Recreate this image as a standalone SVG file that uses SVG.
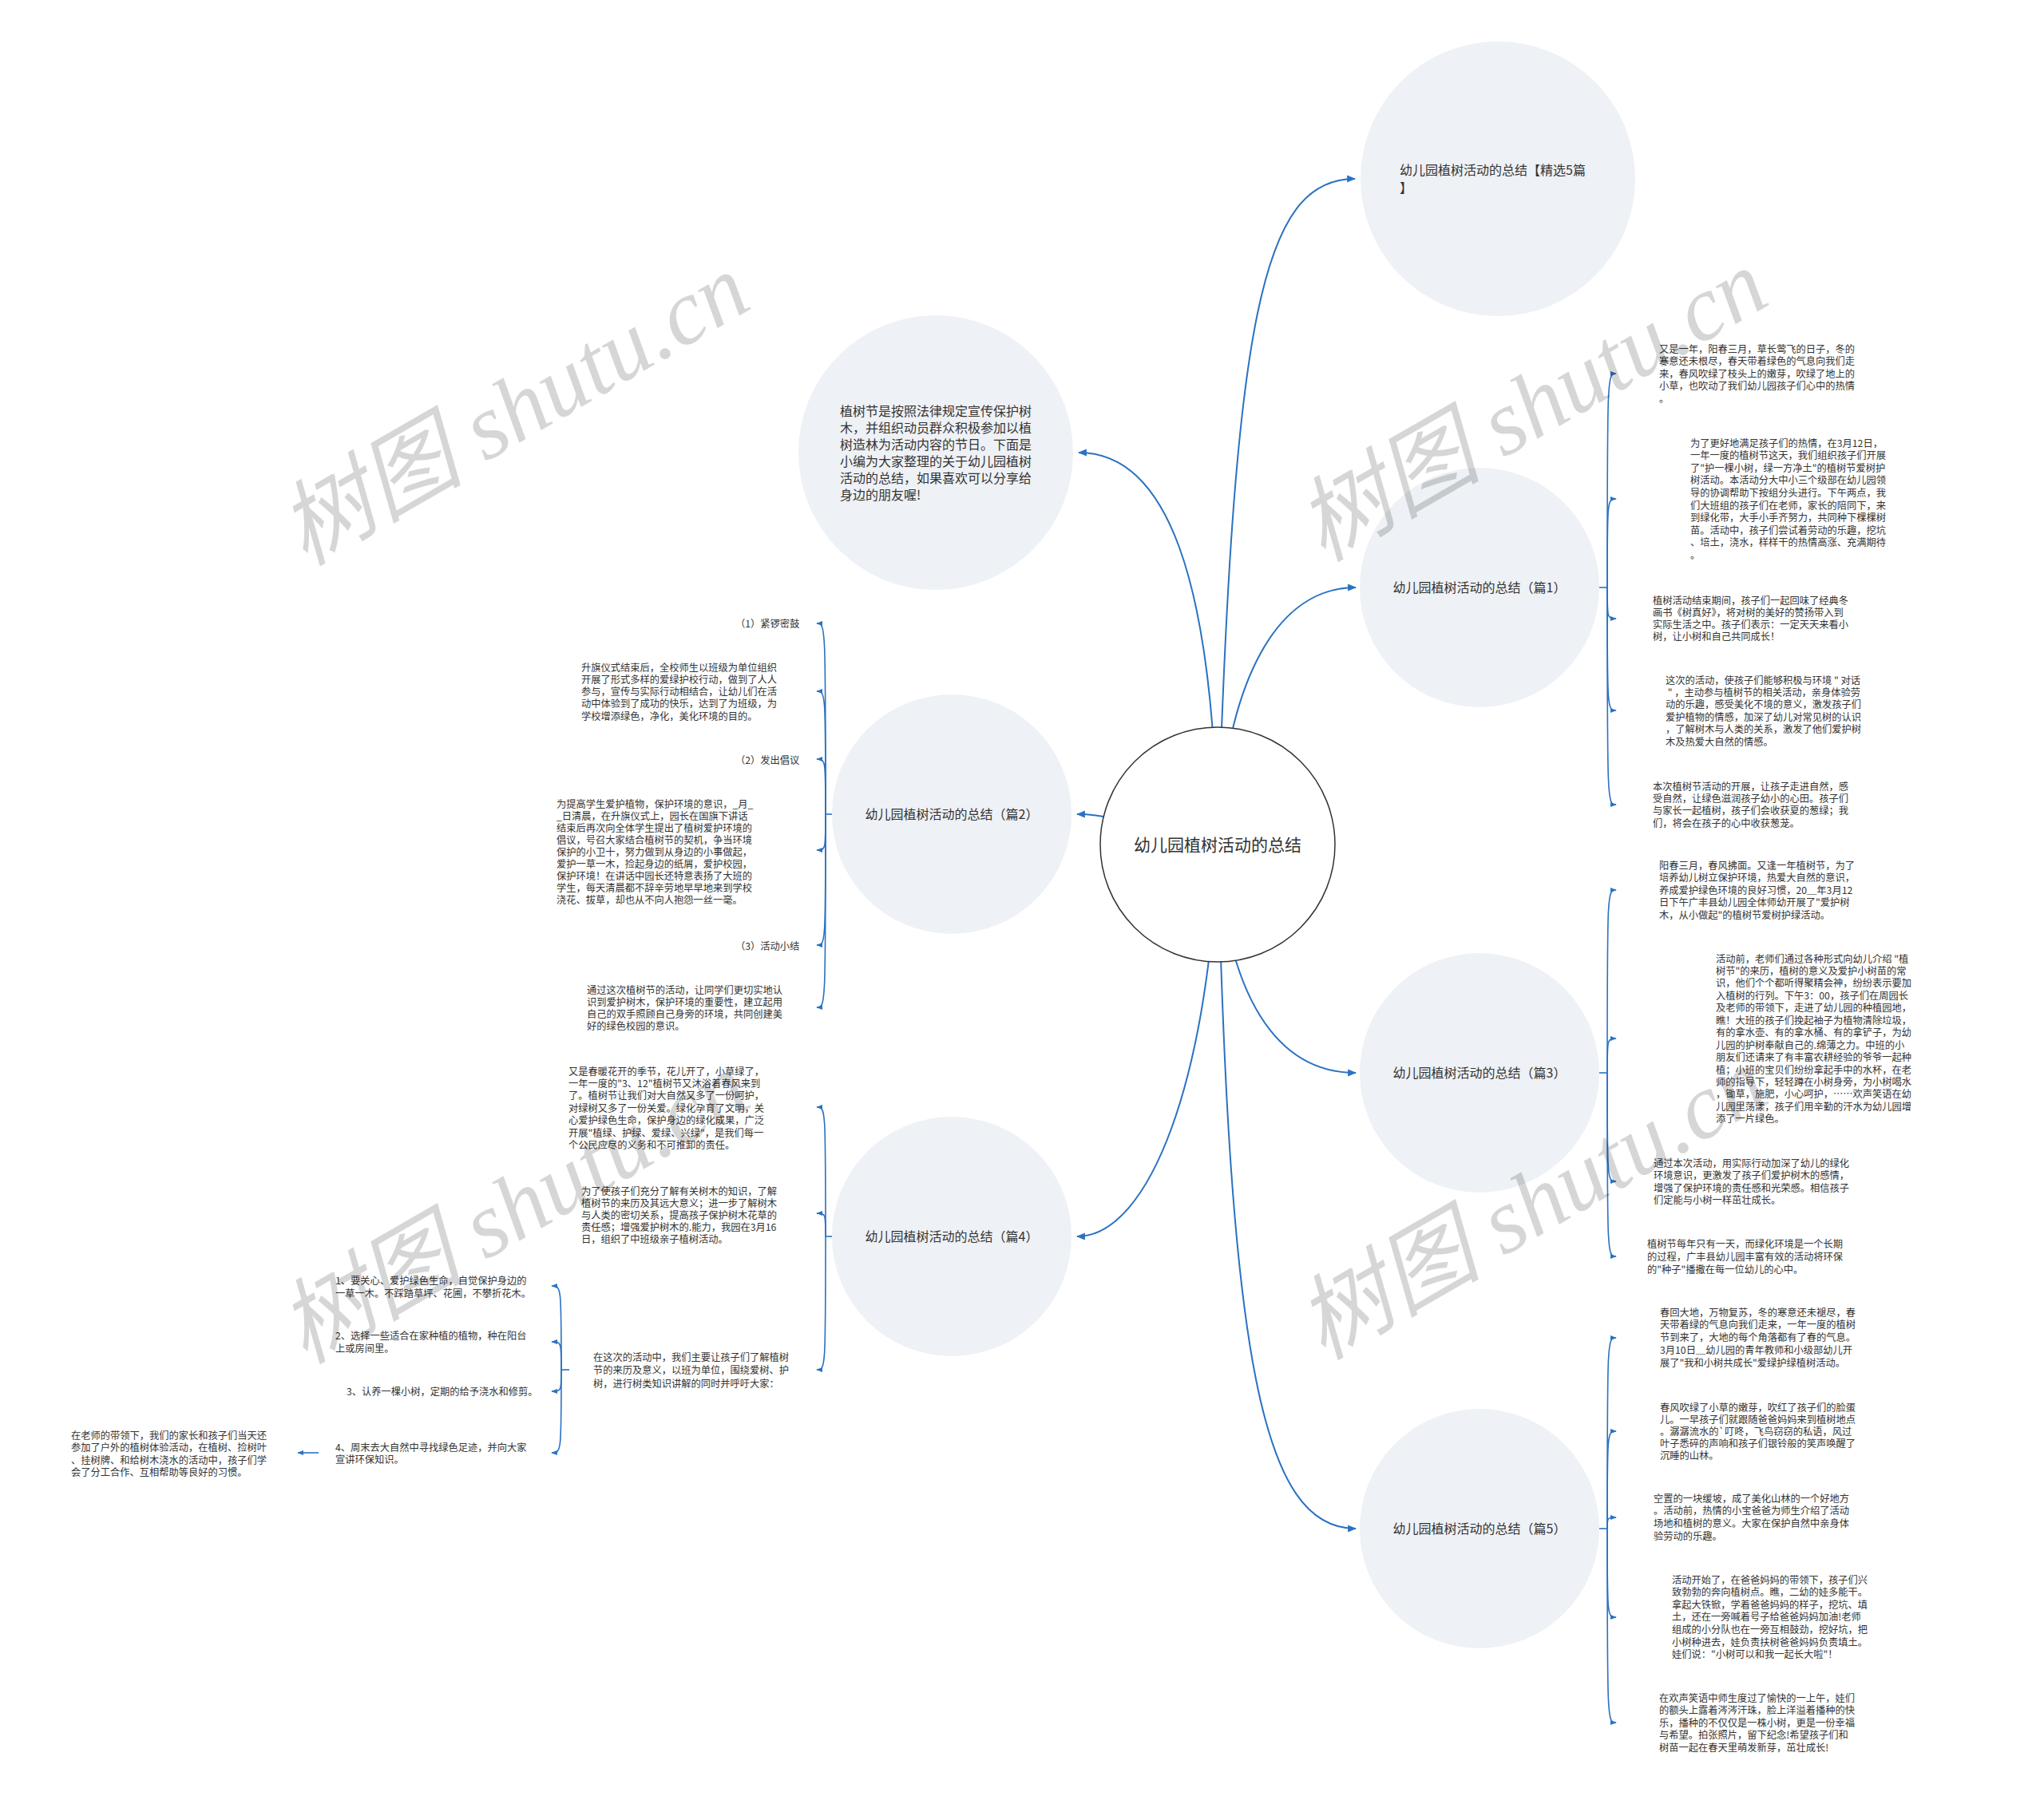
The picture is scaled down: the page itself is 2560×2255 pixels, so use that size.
<svg xmlns="http://www.w3.org/2000/svg" width="2560" height="2255" viewBox="0 0 2560 2255">
<defs>
<style>
.t{font-family:"Noto Sans CJK SC","Noto Sans",sans-serif;font-size:12.25px;fill:#333}
.n{font-family:"Noto Sans CJK SC","Noto Sans",sans-serif;font-size:16px;fill:#333}
.c{font-family:"Noto Sans CJK SC","Noto Sans",sans-serif;font-size:21px;fill:#333}
.bub{fill:#eef1f5}
.ln{fill:none;stroke:#2a72c2;stroke-width:2}
.sl{fill:none;stroke:#2a72c2;stroke-width:1.6}
.wm{font-family:"Liberation Serif","Noto Sans CJK SC",serif;font-style:italic;font-size:116px;fill:#000;fill-opacity:0.16}
</style>
<marker id="a" viewBox="0 0 10 10" refX="9" refY="5" markerWidth="11" markerHeight="11" markerUnits="userSpaceOnUse" orient="auto"><path d="M0,1 L10,5 L0,9 z" fill="#2a72c2"/></marker>
<marker id="s" viewBox="0 0 10 10" refX="9" refY="5" markerWidth="8" markerHeight="8" markerUnits="userSpaceOnUse" orient="auto"><path d="M0,1 L10,5 L0,9 z" fill="#2a72c2"/></marker>
</defs>
<rect width="2560" height="2255" fill="#fff"/>

<g id="connectors">
<path class="ln" marker-end="url(#a)" d="M1525 1058 C1545 400,1580 224,1697 224"/>
<path class="ln" marker-end="url(#a)" d="M1525 1058 C1520 720,1460 567,1351 567"/>
<path class="ln" marker-end="url(#a)" d="M1525 1058 C1535 850,1600 736,1698 736"/>
<path class="ln" marker-end="url(#a)" d="M1525 1058 C1450 1058,1420 1020,1349 1020"/>
<path class="ln" marker-end="url(#a)" d="M1525 1058 C1535 1250,1600 1344,1698 1344"/>
<path class="ln" marker-end="url(#a)" d="M1525 1058 C1515 1350,1440 1549,1349 1549"/>
<path class="ln" marker-end="url(#a)" d="M1525 1058 C1540 1700,1580 1915,1698 1915"/>

<path class="sl" d="M2003 736 H2013"/>
<path class="sl" marker-end="url(#s)" d="M2013 736 C2013 468,2013 468,2024 468"/>
<path class="sl" marker-end="url(#s)" d="M2013 736 C2013 625,2013 625,2024 625"/>
<path class="sl" marker-end="url(#s)" d="M2013 736 C2013 775,2013 775,2024 775"/>
<path class="sl" marker-end="url(#s)" d="M2013 736 C2013 890,2013 890,2024 890"/>
<path class="sl" marker-end="url(#s)" d="M2013 736 C2013 1008,2013 1008,2024 1008"/>

<path class="sl" d="M2003 1344 H2013"/>
<path class="sl" marker-end="url(#s)" d="M2013 1344 C2013 1115,2013 1115,2024 1115"/>
<path class="sl" marker-end="url(#s)" d="M2013 1344 C2013 1301,2013 1301,2024 1301"/>
<path class="sl" marker-end="url(#s)" d="M2013 1344 C2013 1480,2013 1480,2024 1480"/>
<path class="sl" marker-end="url(#s)" d="M2013 1344 C2013 1574,2013 1574,2024 1574"/>

<path class="sl" d="M2003 1915 H2013"/>
<path class="sl" marker-end="url(#s)" d="M2013 1915 C2013 1676,2013 1676,2024 1676"/>
<path class="sl" marker-end="url(#s)" d="M2013 1915 C2013 1793,2013 1793,2024 1793"/>
<path class="sl" marker-end="url(#s)" d="M2013 1915 C2013 1901,2013 1901,2024 1901"/>
<path class="sl" marker-end="url(#s)" d="M2013 1915 C2013 2026,2013 2026,2024 2026"/>
<path class="sl" marker-end="url(#s)" d="M2013 1915 C2013 2158,2013 2158,2024 2158"/>

<path class="sl" d="M1042 1020 H1034"/>
<path class="sl" marker-end="url(#s)" d="M1034 1020 C1034 781,1034 781,1023 781"/>
<path class="sl" marker-end="url(#s)" d="M1034 1020 C1034 866,1034 866,1023 866"/>
<path class="sl" marker-end="url(#s)" d="M1034 1020 C1034 951,1034 951,1023 951"/>
<path class="sl" marker-end="url(#s)" d="M1034 1020 C1034 1065,1034 1065,1023 1065"/>
<path class="sl" marker-end="url(#s)" d="M1034 1020 C1034 1184,1034 1184,1023 1184"/>
<path class="sl" marker-end="url(#s)" d="M1034 1020 C1034 1262,1034 1262,1023 1262"/>

<path class="sl" d="M1042 1549 H1034"/>
<path class="sl" marker-end="url(#s)" d="M1034 1549 C1034 1387,1034 1387,1023 1387"/>
<path class="sl" marker-end="url(#s)" d="M1034 1549 C1034 1520,1034 1520,1023 1520"/>
<path class="sl" marker-end="url(#s)" d="M1034 1549 C1034 1716,1034 1716,1023 1716"/>

<path class="sl" d="M713 1716 H703"/>
<path class="sl" marker-end="url(#s)" d="M703 1716 C703 1611,703 1611,691 1611"/>
<path class="sl" marker-end="url(#s)" d="M703 1716 C703 1681,703 1681,691 1681"/>
<path class="sl" marker-end="url(#s)" d="M703 1716 C703 1743,703 1743,691 1743"/>
<path class="sl" marker-end="url(#s)" d="M703 1716 C703 1820,703 1820,691 1820"/>

<path class="sl" marker-end="url(#s)" d="M399 1820 H373"/>
</g>

<g id="center">
<circle cx="1525" cy="1058" r="147" fill="#fff" stroke="#333" stroke-width="1.5"/>
<text class="c" x="1525" y="1066" text-anchor="middle">幼儿园植树活动的总结</text>
</g>

<g id="node-jingxuan">
<circle class="bub" cx="1876" cy="224" r="172"/>
<text class="n" x="1753" y="219">幼儿园植树活动的总结【精选5篇<tspan x="1753" y="241">】</tspan></text>
</g>

<g id="node-intro">
<circle class="bub" cx="1172" cy="567" r="172"/>
<text class="n" x="1052" y="521"><tspan x="1052" y="521">植树节是按照法律规定宣传保护树</tspan><tspan x="1052" dy="21">木，并组织动员群众积极参加以植</tspan><tspan x="1052" dy="21">树造林为活动内容的节日。下面是</tspan><tspan x="1052" dy="21">小编为大家整理的关于幼儿园植树</tspan><tspan x="1052" dy="21">活动的总结，如果喜欢可以分享给</tspan><tspan x="1052" dy="21">身边的朋友喔!</tspan></text>
</g>

<g id="node-p1">
<circle class="bub" cx="1853" cy="736" r="150"/>
<text class="n" x="1853" y="742" text-anchor="middle">幼儿园植树活动的总结（篇1）</text>
</g>
<g id="node-p2">
<circle class="bub" cx="1192" cy="1020" r="150"/>
<text class="n" x="1192" y="1026" text-anchor="middle">幼儿园植树活动的总结（篇2）</text>
</g>
<g id="node-p3">
<circle class="bub" cx="1853" cy="1344" r="150"/>
<text class="n" x="1853" y="1350" text-anchor="middle">幼儿园植树活动的总结（篇3）</text>
</g>
<g id="node-p4">
<circle class="bub" cx="1192" cy="1549" r="150"/>
<text class="n" x="1192" y="1555" text-anchor="middle">幼儿园植树活动的总结（篇4）</text>
</g>
<g id="node-p5">
<circle class="bub" cx="1853" cy="1915" r="150"/>
<text class="n" x="1853" y="1921" text-anchor="middle">幼儿园植树活动的总结（篇5）</text>
</g>

<g id="p1-texts">
<text class="t"><tspan x="2078" y="441.5">又是一年，阳春三月，草长莺飞的日子，冬的</tspan><tspan x="2078" dy="15.6">寒意还未根尽，春天带着绿色的气息向我们走</tspan><tspan x="2078" dy="15.6">来，春风吹绿了枝头上的嫩芽，吹绿了地上的</tspan><tspan x="2078" dy="15.6">小草，也吹动了我们幼儿园孩子们心中的热情</tspan><tspan x="2078" dy="15.6">。</tspan></text>
<text class="t"><tspan x="2117" y="559.5">为了更好地满足孩子们的热情，在3月12日，</tspan><tspan x="2117" dy="15.6">一年一度的植树节这天，我们组织孩子们开展</tspan><tspan x="2117" dy="15.6">了"护一棵小树，绿一方净土"的植树节爱树护</tspan><tspan x="2117" dy="15.6">树活动。本活动分大中小三个级部在幼儿园领</tspan><tspan x="2117" dy="15.6">导的协调帮助下按组分头进行。下午两点，我</tspan><tspan x="2117" dy="15.6">们大班组的孩子们在老师，家长的陪同下，来</tspan><tspan x="2117" dy="15.6">到绿化带，大手小手齐努力，共同种下棵棵树</tspan><tspan x="2117" dy="15.6">苗。活动中，孩子们尝试着劳动的乐趣，挖坑</tspan><tspan x="2117" dy="15.6">、培土，浇水，样样干的热情高涨、充满期待</tspan><tspan x="2117" dy="15.6">。</tspan></text>
<text class="t"><tspan x="2070" y="756.5">植树活动结束期间，孩子们一起回味了经典冬</tspan><tspan x="2070" dy="15.2">画书《树真好》，将对树的美好的赞扬带入到</tspan><tspan x="2070" dy="15.2">实际生活之中。孩子们表示：一定天天来看小</tspan><tspan x="2070" dy="15.2">树，让小树和自己共同成长！</tspan></text>
<text class="t"><tspan x="2086" y="856.5">这次的活动，使孩子们能够积极与环境 " 对话</tspan><tspan x="2086" dy="15.4"> " ，主动参与植树节的相关活动，亲身体验劳</tspan><tspan x="2086" dy="15.4">动的乐趣，感受美化不境的意义，激发孩子们</tspan><tspan x="2086" dy="15.4">爱护植物的情感，加深了幼儿对常见树的认识</tspan><tspan x="2086" dy="15.4">，了解树木与人类的关系，激发了他们爱护树</tspan><tspan x="2086" dy="15.4">木及热爱大自然的情感。</tspan></text>
<text class="t"><tspan x="2070" y="989.5">本次植树节活动的开展，让孩子走进自然，感</tspan><tspan x="2070" dy="15.4">受自然，让绿色滋润孩子幼小的心田。孩子们</tspan><tspan x="2070" dy="15.4">与家长一起植树，孩子们会收获夏的葱绿；我</tspan><tspan x="2070" dy="15.4">们，将会在孩子的心中收获葱茏。</tspan></text>
</g>

<g id="p2-texts">
<text class="t" x="921" y="785.5">（1）紧锣密鼓</text>
<text class="t"><tspan x="728" y="840.5">升旗仪式结束后，全校师生以班级为单位组织</tspan><tspan x="728" dy="15.3">开展了形式多样的爱绿护校行动，做到了人人</tspan><tspan x="728" dy="15.3">参与，宣传与实际行动相结合，让幼儿们在活</tspan><tspan x="728" dy="15.3">动中体验到了成功的快乐，达到了为班级，为</tspan><tspan x="728" dy="15.3">学校增添绿色，净化，美化环境的目的。</tspan></text>
<text class="t" x="921" y="956.5">（2）发出倡议</text>
<text class="t"><tspan x="697" y="1011.5">为提高学生爱护植物，保护环境的意识，_月_</tspan><tspan x="697" dy="15.1">_日清晨，在升旗仪式上，园长在国旗下讲话</tspan><tspan x="697" dy="15.1">结束后再次向全体学生提出了植树爱护环境的</tspan><tspan x="697" dy="15.1">倡议，号召大家结合植树节的契机，争当环境</tspan><tspan x="697" dy="15.1">保护的小卫十，努力做到从身边的小事做起，</tspan><tspan x="697" dy="15.1">爱护一草一木，捡起身边的纸屑，爱护校园，</tspan><tspan x="697" dy="15.1">保护环境！在讲话中园长还特意表扬了大班的</tspan><tspan x="697" dy="15.1">学生，每天清晨都不辞辛劳地早早地来到学校</tspan><tspan x="697" dy="15.1">浇花、拔草，却也从不向人抱怨一丝一毫。</tspan></text>
<text class="t" x="921" y="1189.5">（3）活动小结</text>
<text class="t"><tspan x="735" y="1244.5">通过这次植树节的活动，让同学们更切实地认</tspan><tspan x="735" dy="15">识到爱护树木，保护环境的重要性，建立起用</tspan><tspan x="735" dy="15">自己的双手照顾自己身旁的环境，共同创建美</tspan><tspan x="735" dy="15">好的绿色校园的意识。</tspan></text>
</g>

<g id="p4-texts">
<text class="t"><tspan x="712" y="1346.5">又是春暖花开的季节，花儿开了，小草绿了，</tspan><tspan x="712" dy="15.4">一年一度的"3、12"植树节又沐浴着春风来到</tspan><tspan x="712" dy="15.4">了。植树节让我们对大自然又多了一份呵护，</tspan><tspan x="712" dy="15.4">对绿树又多了一份关爱。绿化孕育了文明，关</tspan><tspan x="712" dy="15.4">心爱护绿色生命，保护身边的绿化成果，广泛</tspan><tspan x="712" dy="15.4">开展"植绿、护绿、爱绿、兴绿"，是我们每一</tspan><tspan x="712" dy="15.4">个公民应尽的义务和不可推卸的责任。</tspan></text>
<text class="t"><tspan x="728" y="1496.5">为了使孩子们充分了解有关树木的知识，了解</tspan><tspan x="728" dy="15">植树节的来历及其远大意义；进一步了解树木</tspan><tspan x="728" dy="15">与人类的密切关系，提高孩子保护树木花草的</tspan><tspan x="728" dy="15">责任感；增强爱护树木的.能力，我园在3月16</tspan><tspan x="728" dy="15">日，组织了中班级亲子植树活动。</tspan></text>
<text class="t"><tspan x="743" y="1704.5">在这次的活动中，我们主要让孩子们了解植树</tspan><tspan x="743" dy="16.5">节的来历及意义，以班为单位，围绕爱树、护</tspan><tspan x="743" dy="16.5">树，进行树类知识讲解的同时并呼吁大家：</tspan></text>
<text class="t"><tspan x="420" y="1608.5">1、要关心、爱护绿色生命，自觉保护身边的</tspan><tspan x="420" dy="16.5">一草一木。不踩踏草坪、花圃，不攀折花木。</tspan></text>
<text class="t"><tspan x="420" y="1677.5">2、选择一些适合在家种植的植物，种在阳台</tspan><tspan x="420" dy="16">上或房间里。</tspan></text>
<text class="t" x="434" y="1747.5">3、认养一棵小树，定期的给予浇水和修剪。</text>
<text class="t"><tspan x="420" y="1817.5">4、周末去大自然中寻找绿色足迹，并向大家</tspan><tspan x="420" dy="15.5">宣讲环保知识。</tspan></text>
<text class="t"><tspan x="89" y="1802.5">在老师的带领下，我们的家长和孩子们当天还</tspan><tspan x="89" dy="15.6">参加了户外的植树体验活动，在植树、捡树叶</tspan><tspan x="89" dy="15.6">、挂树牌、和给树木浇水的活动中，孩子们学</tspan><tspan x="89" dy="15.6">会了分工合作、互相帮助等良好的习惯。</tspan></text>
</g>

<g id="p3-texts">
<text class="t"><tspan x="2078" y="1088.5">阳春三月，春风拂面。又逢一年植树节，为了</tspan><tspan x="2078" dy="15.5">培养幼儿树立保护环境，热爱大自然的意识，</tspan><tspan x="2078" dy="15.5">养成爱护绿色环境的良好习惯，20＿年3月12</tspan><tspan x="2078" dy="15.5">日下午广丰县幼儿园全体师幼开展了"爱护树</tspan><tspan x="2078" dy="15.5">木，从小做起"的植树节爱树护绿活动。</tspan></text>
<text class="t"><tspan x="2149" y="1205.5">活动前，老师们通过各种形式向幼儿介绍 "植</tspan><tspan x="2149" dy="15.45">树节"的来历，植树的意义及爱护小树苗的常</tspan><tspan x="2149" dy="15.45">识，他们个个都听得聚精会神，纷纷表示要加</tspan><tspan x="2149" dy="15.45">入植树的行列。下午3：00，孩子们在周园长</tspan><tspan x="2149" dy="15.45">及老师的带领下，走进了幼儿园的种植园地，</tspan><tspan x="2149" dy="15.45">瞧！大班的孩子们挽起袖子为植物清除垃圾，</tspan><tspan x="2149" dy="15.45">有的拿水壶、有的拿水桶、有的拿铲子，为幼</tspan><tspan x="2149" dy="15.45">儿园的护树奉献自己的.绵薄之力。中班的小</tspan><tspan x="2149" dy="15.45">朋友们还请来了有丰富农耕经验的爷爷一起种</tspan><tspan x="2149" dy="15.45">植；小班的宝贝们纷纷拿起手中的水杯，在老</tspan><tspan x="2149" dy="15.45">师的指导下，轻轻蹲在小树身旁，为小树喝水</tspan><tspan x="2149" dy="15.45">，锄草，施肥，小心呵护，……欢声笑语在幼</tspan><tspan x="2149" dy="15.45">儿园里荡漾，孩子们用辛勤的汗水为幼儿园增</tspan><tspan x="2149" dy="15.45">添了一片绿色。</tspan></text>
<text class="t"><tspan x="2071" y="1461.5">通过本次活动，用实际行动加深了幼儿的绿化</tspan><tspan x="2071" dy="15.6">环境意识，更激发了孩子们爱护树木的感情，</tspan><tspan x="2071" dy="15.6">增强了保护环境的责任感和光荣感。相信孩子</tspan><tspan x="2071" dy="15.6">们定能与小树一样茁壮成长。</tspan></text>
<text class="t"><tspan x="2063" y="1562.5">植树节每年只有一天，而绿化环境是一个长期</tspan><tspan x="2063" dy="16">的过程，广丰县幼儿园丰富有效的活动将环保</tspan><tspan x="2063" dy="16">的"种子"播撒在每一位幼儿的心中。</tspan></text>
</g>

<g id="p5-texts">
<text class="t"><tspan x="2079" y="1648.5">春回大地，万物复苏，冬的寒意还未褪尽，春</tspan><tspan x="2079" dy="15.8">天带着绿的气息向我们走来，一年一度的植树</tspan><tspan x="2079" dy="15.8">节到来了，大地的每个角落都有了春的气息。</tspan><tspan x="2079" dy="15.8">3月10日＿幼儿园的青年教师和小级部幼儿开</tspan><tspan x="2079" dy="15.8">展了"我和小树共成长"爱绿护绿植树活动。</tspan></text>
<text class="t"><tspan x="2079" y="1767.5">春风吹绿了小草的嫩芽，吹红了孩子们的脸蛋</tspan><tspan x="2079" dy="15">儿。一早孩子们就跟随爸爸妈妈来到植树地点</tspan><tspan x="2079" dy="15">。潺潺流水的`叮咚，飞鸟窃窃的私语，风过</tspan><tspan x="2079" dy="15">叶子悉碎的声响和孩子们银铃般的笑声唤醒了</tspan><tspan x="2079" dy="15">沉睡的山林。</tspan></text>
<text class="t"><tspan x="2071" y="1881.5">空置的一块缓坡，成了美化山林的一个好地方</tspan><tspan x="2071" dy="15.9">。活动前，热情的小宝爸爸为师生介绍了活动</tspan><tspan x="2071" dy="15.9">场地和植树的意义。大家在保护自然中亲身体</tspan><tspan x="2071" dy="15.9">验劳动的乐趣。</tspan></text>
<text class="t"><tspan x="2094" y="1983.5">活动开始了，在爸爸妈妈的带领下，孩子们兴</tspan><tspan x="2094" dy="15.6">致勃勃的奔向植树点。瞧，二幼的娃多能干。</tspan><tspan x="2094" dy="15.6">拿起大铁锨，学着爸爸妈妈的样子，挖坑、填</tspan><tspan x="2094" dy="15.6">土，还在一旁喊着号子给爸爸妈妈加油!老师</tspan><tspan x="2094" dy="15.6">组成的小分队也在一旁互相鼓劲，挖好坑，把</tspan><tspan x="2094" dy="15.6">小树种进去，娃负责扶树爸爸妈妈负责填土。</tspan><tspan x="2094" dy="15.6">娃们说："小树可以和我一起长大啦"！</tspan></text>
<text class="t"><tspan x="2078" y="2131.5">在欢声笑语中师生度过了愉快的一上午，娃们</tspan><tspan x="2078" dy="15.5">的额头上露着涔涔汗珠，脸上洋溢着播种的快</tspan><tspan x="2078" dy="15.5">乐，播种的不仅仅是一株小树，更是一份幸福</tspan><tspan x="2078" dy="15.5">与希望。拍张照片，留下纪念!希望孩子们和</tspan><tspan x="2078" dy="15.5">树苗一起在春天里萌发新芽，茁壮成长!</tspan></text>
</g>

<g id="watermarks">
<text class="wm" x="645" y="552" text-anchor="middle" transform="rotate(-30 645 515)">树图 shutu.cn</text>
<text class="wm" x="1920" y="547" text-anchor="middle" transform="rotate(-30 1920 510)">树图 shutu.cn</text>
<text class="wm" x="645" y="1552" text-anchor="middle" transform="rotate(-30 645 1515)">树图 shutu.cn</text>
<text class="wm" x="1920" y="1547" text-anchor="middle" transform="rotate(-30 1920 1510)">树图 shutu.cn</text>
</g>
</svg>
